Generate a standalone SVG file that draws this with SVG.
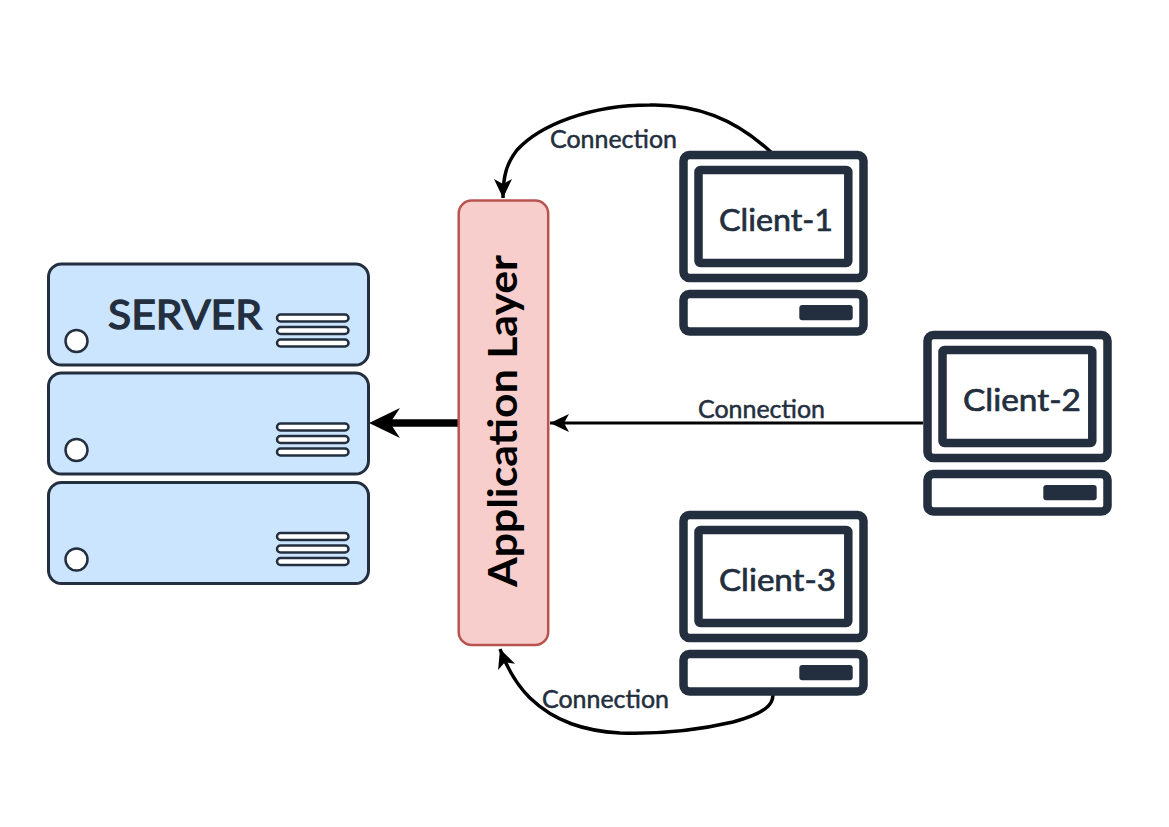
<svg xmlns="http://www.w3.org/2000/svg" width="1169" height="827" viewBox="0 0 1169 827">
<style>
text{font-family:"Lato","Open Sans","Liberation Sans",sans-serif;fill:#232f3e;stroke:#232f3e}
.lbl{font-size:25px;stroke-width:.5}
.cl{font-size:31px;stroke-width:.7}
.unit{fill:#cce5ff;stroke:#232f3e;stroke-width:3}
.led{fill:#fff;stroke:#232f3e;stroke-width:2.5}
.slot{fill:#fff;stroke:#232f3e;stroke-width:2.5}
.frame{fill:#fff;stroke:#232f3e;stroke-width:8.5}
.con{fill:none;stroke:#000;stroke-width:3.5}
</style>
<defs>
<marker id="arrow" markerUnits="userSpaceOnUse" markerWidth="22" markerHeight="22" refX="19" refY="10" orient="auto">
<path d="M0 1L19 10L0 19L5 10Z" fill="#000"/>
</marker>
<g id="pc">
<rect class="frame" x="683.5" y="155" width="180" height="123" rx="6"/>
<rect class="frame" x="698.5" y="170" width="149.8" height="93" rx="2"/>
<rect class="frame" x="683.5" y="294" width="180" height="37.5" rx="6"/>
<rect x="799.3" y="305" width="53.4" height="15.3" rx="3" fill="#232f3e"/>
</g>
<g id="srv">
<rect class="unit" x="48.5" y="264" width="320" height="101" rx="13"/>
<circle class="led" cx="76.5" cy="341" r="11"/>
<rect class="slot" x="277" y="314.5" width="71.5" height="7" rx="3.5"/>
<rect class="slot" x="277" y="327" width="71.5" height="7" rx="3.5"/>
<rect class="slot" x="277" y="339.5" width="71.5" height="7" rx="3.5"/>
</g>
</defs>
<g id="connectors">
<path class="con" marker-end="url(#arrow)" d="M773 154C735 118 695 104 650 105C590 105 540 125 517 150C507 163 503 175 503 198"/>
<path class="con" style="stroke-width:3" marker-end="url(#arrow)" d="M923 423L550 423"/>
<path class="con" marker-end="url(#arrow)" d="M773 695C773 705 765 713 733 722C690 732 650 734 620 733C585 731 555 722 530 698C516 684 507 668 500 649"/>
<path d="M458 423L388 423" fill="none" stroke="#000" stroke-width="7.5"/>
<path d="M369 423L400 408L390 423L400 438Z" fill="#000"/>
</g>
<g id="server-1"><use href="#srv"/><text x="108" y="329" font-size="41" stroke-width="1.4" textLength="154" lengthAdjust="spacingAndGlyphs">SERVER</text></g>
<g id="server-2"><use href="#srv" y="109"/></g>
<g id="server-3"><use href="#srv" y="218.5"/></g>
<g id="application-layer">
<rect x="458.7" y="200.5" width="89.5" height="444.5" rx="13" fill="#f8cecc" stroke="#b85450" stroke-width="2.5"/>
<text transform="translate(517 587) rotate(-90)" font-size="40" font-weight="700" textLength="332" lengthAdjust="spacingAndGlyphs" style="fill:#000;stroke:none">Application Layer</text>
</g>
<g id="client-1"><use href="#pc"/><text class="cl" x="719" y="231" textLength="114" lengthAdjust="spacingAndGlyphs">Client-1</text></g>
<g id="client-2"><use href="#pc" x="244" y="180"/><text class="cl" x="963" y="411" textLength="118" lengthAdjust="spacingAndGlyphs">Client-2</text></g>
<g id="client-3"><use href="#pc" y="360"/><text class="cl" x="719" y="591" textLength="117" lengthAdjust="spacingAndGlyphs">Client-3</text></g>
<g id="connection-labels">
<text class="lbl" x="550" y="148" textLength="127" lengthAdjust="spacingAndGlyphs">Connection</text>
<text class="lbl" x="698" y="418" textLength="127" lengthAdjust="spacingAndGlyphs">Connection</text>
<text class="lbl" x="542" y="708" textLength="127" lengthAdjust="spacingAndGlyphs">Connection</text>
</g>
</svg>
